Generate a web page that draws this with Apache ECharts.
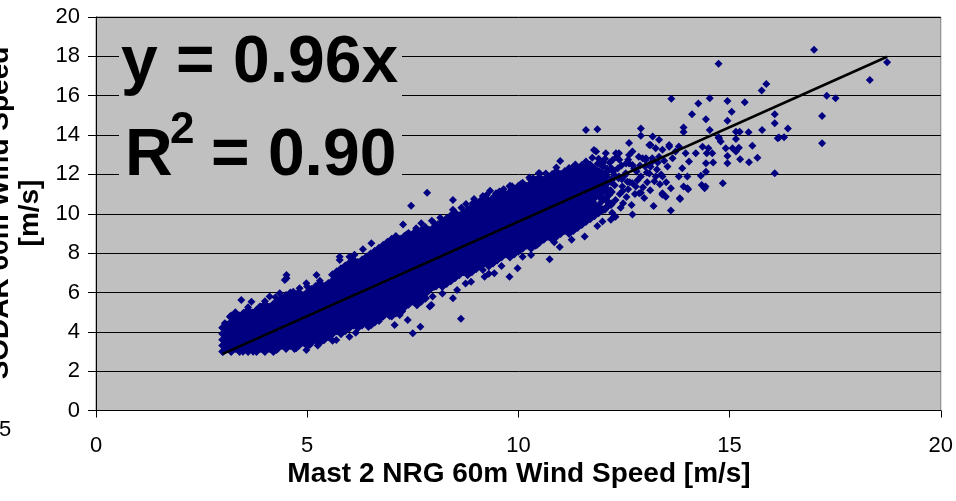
<!DOCTYPE html>
<html><head><meta charset="utf-8">
<script src="https://cdn.jsdelivr.net/npm/echarts@6/dist/echarts.min.js"></script>
<style>html,body{margin:0;padding:0;background:#fff}#c{width:956px;height:501px}</style>
</head><body><div id="c"></div>
<script>
// Dense core of the cloud: each entry = [x, y1, y2, ...] (m/s)
const bandColumns = [
[3.0,3.0,3.3,3.6,3.9,4.2],
[3.1,3.15,3.45,3.75,4.05,4.35],
[3.2,3.0,3.3,3.6,3.9,4.2,4.5,4.8],
[3.3,3.15,3.45,3.75,4.05,4.35,4.65],
[3.4,3.0,3.3,3.6,3.9,4.2,4.5,4.8],
[3.5,3.15,3.45,3.75,4.05,4.35,4.65,4.95],
[3.6,3.0,3.3,3.6,3.9,4.2,4.5,4.8,5.1],
[3.7,3.15,3.45,3.75,4.05,4.35,4.65,4.95],
[3.8,3.0,3.3,3.6,3.9,4.2,4.5,4.8,5.1],
[3.9,3.15,3.45,3.75,4.05,4.35,4.65,4.95,5.25],
[4.0,3.0,3.3,3.6,3.9,4.2,4.5,4.8,5.1,5.4],
[4.1,3.15,3.45,3.75,4.05,4.35,4.65,4.95,5.25],
[4.2,3.0,3.3,3.6,3.9,4.2,4.5,4.8,5.1,5.4],
[4.3,3.15,3.45,3.75,4.05,4.35,4.65,4.95,5.25,5.55],
[4.4,3.3,3.6,3.9,4.2,4.5,4.8,5.1,5.4,5.7],
[4.5,3.15,3.45,3.75,4.05,4.35,4.65,4.95,5.25,5.55,5.85],
[4.6,3.3,3.6,3.9,4.2,4.5,4.8,5.1,5.4,5.7],
[4.7,3.15,3.45,3.75,4.05,4.35,4.65,4.95,5.25,5.55,5.85],
[4.8,3.3,3.6,3.9,4.2,4.5,4.8,5.1,5.4,5.7,6.0],
[4.9,3.45,3.75,4.05,4.35,4.65,4.95,5.25,5.55,5.85],
[5.0,3.3,3.6,3.9,4.2,4.5,4.8,5.1,5.4,5.7,6.0],
[5.1,3.45,3.75,4.05,4.35,4.65,4.95,5.25,5.55,5.85,6.15],
[5.2,3.6,3.9,4.2,4.5,4.8,5.1,5.4,5.7,6.0,6.3],
[5.3,3.45,3.75,4.05,4.35,4.65,4.95,5.25,5.55,5.85,6.15,6.45],
[5.4,3.6,3.9,4.2,4.5,4.8,5.1,5.4,5.7,6.0,6.3],
[5.5,3.75,4.05,4.35,4.65,4.95,5.25,5.55,5.85,6.15,6.45],
[5.6,3.9,4.2,4.5,4.8,5.1,5.4,5.7,6.0,6.3,6.6,6.9],
[5.7,4.05,4.35,4.65,4.95,5.25,5.55,5.85,6.15,6.45,6.75,7.05],
[5.8,3.9,4.2,4.5,4.8,5.1,5.4,5.7,6.0,6.3,6.6,6.9,7.2],
[5.9,4.05,4.35,4.65,4.95,5.25,5.55,5.85,6.15,6.45,6.75,7.05,7.35],
[6.0,4.2,4.5,4.8,5.1,5.4,5.7,6.0,6.3,6.6,6.9,7.2,7.5],
[6.1,4.35,4.65,4.95,5.25,5.55,5.85,6.15,6.45,6.75,7.05,7.35,7.65],
[6.2,4.2,4.5,4.8,5.1,5.4,5.7,6.0,6.3,6.6,6.9,7.2,7.5],
[6.3,4.35,4.65,4.95,5.25,5.55,5.85,6.15,6.45,6.75,7.05,7.35,7.65],
[6.4,4.5,4.8,5.1,5.4,5.7,6.0,6.3,6.6,6.9,7.2,7.5,7.8],
[6.5,4.65,4.95,5.25,5.55,5.85,6.15,6.45,6.75,7.05,7.35,7.65,7.95],
[6.6,4.5,4.8,5.1,5.4,5.7,6.0,6.3,6.6,6.9,7.2,7.5,7.8,8.1],
[6.7,4.65,4.95,5.25,5.55,5.85,6.15,6.45,6.75,7.05,7.35,7.65,7.95,8.25],
[6.8,4.8,5.1,5.4,5.7,6.0,6.3,6.6,6.9,7.2,7.5,7.8,8.1,8.4],
[6.9,4.95,5.25,5.55,5.85,6.15,6.45,6.75,7.05,7.35,7.65,7.95,8.25,8.55],
[7.0,4.8,5.1,5.4,5.7,6.0,6.3,6.6,6.9,7.2,7.5,7.8,8.1,8.4,8.7],
[7.1,4.95,5.25,5.55,5.85,6.15,6.45,6.75,7.05,7.35,7.65,7.95,8.25,8.55,8.85],
[7.2,5.1,5.4,5.7,6.0,6.3,6.6,6.9,7.2,7.5,7.8,8.1,8.4,8.7],
[7.3,5.25,5.55,5.85,6.15,6.45,6.75,7.05,7.35,7.65,7.95,8.25,8.55,8.85],
[7.4,5.4,5.7,6.0,6.3,6.6,6.9,7.2,7.5,7.8,8.1,8.4,8.7,9.0],
[7.5,5.55,5.85,6.15,6.45,6.75,7.05,7.35,7.65,7.95,8.25,8.55,8.85],
[7.6,5.4,5.7,6.0,6.3,6.6,6.9,7.2,7.5,7.8,8.1,8.4,8.7,9.0],
[7.7,5.55,5.85,6.15,6.45,6.75,7.05,7.35,7.65,7.95,8.25,8.55,8.85,9.15],
[7.8,5.7,6.0,6.3,6.6,6.9,7.2,7.5,7.8,8.1,8.4,8.7,9.0,9.3],
[7.9,6.15,6.45,6.75,7.05,7.35,7.65,7.95,8.25,8.55,8.85,9.15],
[8.0,6.3,6.6,6.9,7.2,7.5,7.8,8.1,8.4,8.7,9.0,9.3],
[8.1,6.45,6.75,7.05,7.35,7.65,7.95,8.25,8.55,8.85,9.15,9.45],
[8.2,6.3,6.6,6.9,7.2,7.5,7.8,8.1,8.4,8.7,9.0,9.3,9.6],
[8.3,6.45,6.75,7.05,7.35,7.65,7.95,8.25,8.55,8.85,9.15,9.45,9.75],
[8.4,6.6,6.9,7.2,7.5,7.8,8.1,8.4,8.7,9.0,9.3,9.6,9.9],
[8.5,6.75,7.05,7.35,7.65,7.95,8.25,8.55,8.85,9.15,9.45,9.75,10.05],
[8.6,6.9,7.2,7.5,7.8,8.1,8.4,8.7,9.0,9.3,9.6,9.9],
[8.7,7.05,7.35,7.65,7.95,8.25,8.55,8.85,9.15,9.45,9.75,10.05],
[8.8,6.9,7.2,7.5,7.8,8.1,8.4,8.7,9.0,9.3,9.6,9.9,10.2],
[8.9,7.05,7.35,7.65,7.95,8.25,8.55,8.85,9.15,9.45,9.75,10.05,10.35],
[9.0,7.2,7.5,7.8,8.1,8.4,8.7,9.0,9.3,9.6,9.9,10.2,10.5],
[9.1,7.35,7.65,7.95,8.25,8.55,8.85,9.15,9.45,9.75,10.05,10.35,10.65],
[9.2,7.5,7.8,8.1,8.4,8.7,9.0,9.3,9.6,9.9,10.2,10.5,10.8],
[9.3,7.35,7.65,7.95,8.25,8.55,8.85,9.15,9.45,9.75,10.05,10.35,10.65],
[9.4,7.5,7.8,8.1,8.4,8.7,9.0,9.3,9.6,9.9,10.2,10.5,10.8],
[9.5,7.65,7.95,8.25,8.55,8.85,9.15,9.45,9.75,10.05,10.35,10.65,10.95],
[9.6,7.8,8.1,8.4,8.7,9.0,9.3,9.6,9.9,10.2,10.5,10.8,11.1],
[9.7,7.95,8.25,8.55,8.85,9.15,9.45,9.75,10.05,10.35,10.65,10.95],
[9.8,7.8,8.1,8.4,8.7,9.0,9.3,9.6,9.9,10.2,10.5,10.8,11.1,11.4],
[9.9,7.95,8.25,8.55,8.85,9.15,9.45,9.75,10.05,10.35,10.65,10.95,11.25],
[10.0,8.1,8.4,8.7,9.0,9.3,9.6,9.9,10.2,10.5,10.8,11.1,11.4],
[10.1,8.25,8.55,8.85,9.15,9.45,9.75,10.05,10.35,10.65,10.95,11.25,11.55],
[10.2,8.4,8.7,9.0,9.3,9.6,9.9,10.2,10.5,10.8,11.1,11.4],
[10.3,8.25,8.55,8.85,9.15,9.45,9.75,10.05,10.35,10.65,10.95,11.25,11.55],
[10.4,8.4,8.7,9.0,9.3,9.6,9.9,10.2,10.5,10.8,11.1,11.4,11.7],
[10.5,8.55,8.85,9.15,9.45,9.75,10.05,10.35,10.65,10.95,11.25,11.55,11.85],
[10.6,8.7,9.0,9.3,9.6,9.9,10.2,10.5,10.8,11.1,11.4,11.7],
[10.7,8.85,9.15,9.45,9.75,10.05,10.35,10.65,10.95,11.25,11.55,11.85],
[10.8,8.7,9.0,9.3,9.6,9.9,10.2,10.5,10.8,11.1,11.4,11.7,12.0],
[10.9,8.85,9.15,9.45,9.75,10.05,10.35,10.65,10.95,11.25,11.55,11.85,12.15],
[11.0,9.0,9.3,9.6,9.9,10.2,10.5,10.8,11.1,11.4,11.7,12.0],
[11.1,9.15,9.45,9.75,10.05,10.35,10.65,10.95,11.25,11.55,11.85,12.15],
[11.2,9.0,9.3,9.6,9.9,10.2,10.5,10.8,11.1,11.4,11.7,12.0,12.3],
[11.3,9.15,9.45,9.75,10.05,10.35,10.65,10.95,11.25,11.55,11.85,12.15],
[11.4,9.3,9.6,9.9,10.2,10.5,10.8,11.1,11.4,11.7,12.0,12.3],
[11.5,9.45,9.75,10.05,10.35,10.65,10.95,11.25,11.55,11.85,12.15,12.45],
[11.6,9.6,9.9,10.2,10.5,10.8,11.1,11.4,11.7,12.0,12.3],
[11.7,9.75,10.05,10.35,10.65,10.95,11.25,11.55,11.85,12.15,12.45],
[11.8,9.9,10.5,10.8,11.1,11.4,11.7,12.0,12.3],
[11.9,10.05,10.35,10.95,11.25,11.55,11.85,12.15],
[12.0,10.2,10.8,11.1,11.4,12.0,12.6],
[12.1,10.35,10.65,11.25,11.55,12.15],
[12.2,10.5,11.1,11.7,12.3]
];
// Ragged edges of the cloud (x, y)
const edgePoints = [
[3.01,2.99],[3.48,2.99],[3.72,2.99],[3.96,3.08],[4.27,3.08],[4.51,3.24],[4.74,3.16],[4.98,3.08],[5.06,3.33],[5.25,3.3],
[5.49,3.92],[5.6,3.55],[5.69,3.58],[5.85,4.18],[6.0,3.75],[6.15,3.95],[6.32,4.43],[6.45,4.25],[6.52,4.35],[6.7,4.55],
[6.83,4.86],[6.95,4.8],[7.07,4.35],[7.19,4.86],[7.25,5.05],[7.38,4.6],[7.5,3.92],[7.6,5.35],[7.68,4.26],[8.64,4.66],
[6.87,5.28],[7.9,5.28],[7.94,5.36],[7.82,5.96],[7.97,5.79],[8.2,5.95],[8.45,5.7],[8.55,6.13],[8.05,6.3],[8.41,6.64],
[8.75,6.45],[8.88,6.55],[9.2,6.8],[9.3,6.95],[9.43,6.97],[9.16,7.14],[9.6,7.35],[9.79,6.8],[9.98,7.23],[10.1,7.82],
[10.3,7.9],[10.44,8.41],[10.74,7.69],[10.85,8.55],[10.98,8.31],[11.26,8.68],[11.57,8.84],[11.87,9.38],[11.99,9.6],[12.19,9.69],
[12.3,9.85],[3.05,4.43],[3.17,4.77],[3.3,5.0],[3.44,5.62],[3.68,5.53],[3.6,5.25],[3.88,5.28],[4.0,5.55],[4.11,5.79],
[4.25,5.75],[4.35,5.96],[4.47,6.63],[4.51,6.72],[4.51,6.89],[4.6,6.0],[4.67,6.04],[4.82,6.21],[4.98,6.47],[5.0,6.3],
[5.22,6.89],[5.3,6.6],[5.45,6.38],[5.6,6.9],[5.77,7.82],[5.77,7.65],[5.9,7.25],[6.0,7.82],[6.12,7.91],[6.2,7.55],
[6.32,8.19],[6.45,7.85],[6.52,8.5],[6.75,8.1],[6.92,8.48],[7.05,8.6],[7.27,9.45],[7.35,8.95],[7.55,9.1],[7.58,9.26],
[7.7,9.52],[7.82,8.92],[7.95,9.65],[8.01,9.52],[8.15,9.8],[8.29,9.72],[8.45,10.2],[8.65,10.3],[8.76,10.49],[8.92,10.53],
[8.95,10.75],[9.16,10.9],[9.25,10.95],[9.33,11.17],[9.47,11.04],[9.55,11.13],[9.65,11.25],[9.85,11.4],[10.05,11.5],[10.28,11.75],
[10.35,11.8],[10.48,12.06],[10.65,12.05],[10.81,11.97],[10.9,12.35],[11.21,12.23],[11.28,12.35],[11.35,12.5],[11.44,12.23],[11.6,12.65]
];
// Sparser upper end of the cloud, x 11.5 - 14.5 (x, y)
const tailPoints = [
[11.55,10.6],[11.6,11.25],[11.62,12.25],[11.68,9.95],[11.7,10.9],[11.72,11.6],[11.75,12.85],[11.78,10.35],[11.82,11.9],[11.85,11.05],
[11.88,12.55],[11.9,10.15],[11.93,11.75],[11.96,10.6],[11.98,12.1],[12.02,11.35],[12.05,12.8],[12.08,10.8],[12.1,11.9],[12.12,10.4],
[12.16,12.6],[12.18,11.2],[12.22,10.05],[12.24,12.15],[12.28,11.45],[12.3,10.7],[12.33,12.9],[12.37,11.8],[12.42,10.3],[12.44,12.45],
[12.47,11.15],[12.52,11.95],[12.56,10.85],[12.6,12.75],[12.64,11.6],[12.68,10.45],[12.74,12.3],[12.76,11.0],[12.82,11.7],[12.88,12.45],
[12.95,11.35],[12.98,10.8],[13.04,12.1],[13.12,11.2],[13.15,12.6],[13.22,11.65],[13.28,12.25],[13.38,12.0],[13.45,12.7],[13.5,11.6],
[11.6,11.72],[11.56,10.03],[11.64,10.37],[11.65,11.0],[11.65,9.9],[11.7,12.5],[11.75,10.6],[11.76,12.06],[11.79,13.24],[11.8,10.2],
[11.83,11.38],[11.84,13.16],[11.9,12.8],[11.91,10.87],[11.95,11.5],[11.99,12.39],[12.0,12.45],[12.03,11.72],[12.05,10.2],[12.07,13.07],
[12.07,11.13],[12.1,12.3],[12.15,10.95],[12.19,10.45],[12.2,11.6],[12.23,12.73],[12.27,11.98],[12.27,9.86],[12.31,13.08],[12.35,12.3],
[12.38,13.07],[12.38,11.89],[12.39,12.74],[12.4,11.0],[12.45,11.75],[12.46,11.38],[12.48,10.53],[12.54,12.06],[12.55,12.55],[12.58,11.63],
[12.6,11.25],[12.62,13.59],[12.62,12.99],[12.62,12.56],[12.7,12.48],[12.7,11.55],[12.7,9.96],[12.7,13.16],[12.78,12.22],[12.78,11.38],
[12.8,12.15],[12.85,12.9],[12.86,11.04],[12.9,11.89],[12.9,11.07],[12.9,14.33],[12.9,13.97],[12.94,12.82],[13.0,12.4],[13.01,12.73],
[13.02,12.82],[13.05,11.6],[13.1,12.05],[13.1,13.5],[13.13,13.5],[13.13,12.39],[13.17,12.82],[13.18,13.92],[13.2,10.4],[13.25,11.89],
[13.25,13.33],[13.3,12.6],[13.33,13.76],[13.33,12.9],[13.35,11.5],[13.41,13.25],[13.41,11.89],[13.41,11.04],[13.41,10.96],[13.49,10.87],
[13.53,12.4],[13.57,13.5],[13.57,13.41],[13.61,11.3],[13.61,10.16],[13.62,15.85],[13.65,12.82],[13.72,13.16],[13.8,13.42],[13.8,11.89],
[13.82,10.79],[13.83,10.75],[13.88,12.31],[13.91,14.38],[13.91,14.16],[13.91,11.38],[13.96,13.08],[14.0,11.89],[14.0,11.3],[14.02,11.25],
[14.04,12.65],[14.11,15.06],[14.2,13.07],[14.26,15.6],[14.32,11.93],[14.34,11.46],[14.36,13.41],[14.41,11.3],[14.43,11.38],[14.44,14.8],
[14.44,12.14],[14.44,12.57],[14.46,13.07],[14.5,13.33],[11.6,14.26],[11.87,14.3],[10.99,12.68],[10.26,11.84],[10.5,12.06],[7.46,10.41],
[7.84,11.07],[8.45,10.7]
];
// Scattered high-wind points, x > 14.5 (x, y)
const outlierPoints = [
[14.53,15.87],[14.53,14.26],[14.59,13.07],[14.61,12.6],[14.74,17.62],[14.74,13.89],[14.75,13.84],[14.79,13.67],[14.84,11.55],[14.91,13.33],
[14.95,15.73],[14.95,14.73],[14.95,12.94],[14.95,12.57],[15.05,15.19],[15.07,13.33],[15.15,14.17],[15.15,13.8],[15.15,13.16],[15.22,13.36],
[15.24,14.17],[15.25,12.77],[15.36,15.67],[15.45,14.14],[15.46,12.62],[15.54,13.46],[15.66,12.85],[15.76,16.26],[15.77,14.26],[15.87,16.6],
[16.07,15.06],[16.07,14.6],[16.07,12.06],[16.14,13.84],[16.17,13.87],[16.29,13.89],[16.38,14.33],[17.0,18.33],[17.19,14.97],[17.19,13.58],
[17.3,16.0],[17.51,15.87],[18.32,16.8],[18.73,17.7]
];
// Fitted line y = 0.96x, drawn across the data range
const trendX = [3.0, 18.73];
const trendY = [2.88, 17.98];

const coreData = [];
for (const col of bandColumns) { for (let i = 1; i < col.length; i++) coreData.push([col[0], col[i]]); }
const looseData = [].concat(edgePoints, tailPoints, outlierPoints);
const trendData = trendX.map((x, i) => [x, trendY[i]]);

const FONT = 'Liberation Sans, Arial, sans-serif';
const NAVY = '#000080';
const chart = echarts.init(document.getElementById('c'), null, {renderer: 'canvas', width: 956, height: 501});
chart.setOption({
  animation: false,
  backgroundColor: '#ffffff',
  grid: {left: 96, right: 14, top: 17, bottom: 90.5, show: true, backgroundColor: '#C0C0C0', borderColor: '#808080', borderWidth: 1},
  xAxis: {
    type: 'value', min: 0, max: 20, interval: 5,
    axisLine: {show: true, onZero: false, lineStyle: {color: '#000', width: 1}},
    axisTick: {show: true, length: 7, lineStyle: {color: '#000'}},
    axisLabel: {color: '#000', fontFamily: FONT, fontSize: 22, margin: 24},
    splitLine: {show: false}
  },
  yAxis: {
    type: 'value', min: 0, max: 20, interval: 2,
    axisLine: {show: true, onZero: false, lineStyle: {color: '#000', width: 1}},
    axisTick: {show: true, length: 8, lineStyle: {color: '#000'}},
    axisLabel: {color: '#000', fontFamily: FONT, fontSize: 22, margin: 16},
    splitLine: {show: true, lineStyle: {color: '#000', width: 1}}
  },
  series: [
    {type: 'scatter', data: coreData, symbol: 'diamond', symbolSize: 9, itemStyle: {color: NAVY, opacity: 1}, silent: true, z: 2},
    {type: 'scatter', data: looseData, symbol: 'diamond', symbolSize: 8, itemStyle: {color: NAVY, opacity: 1}, silent: true, z: 2},
    {type: 'line', data: trendData, symbol: 'none', lineStyle: {color: '#000', width: 2.5}, silent: true, z: 3}
  ],
  graphic: [
    {type: 'rect', z: 50, shape: {x: 119, y: 35, width: 283, height: 153}, style: {fill: '#C0C0C0'}},
    {type: 'text', z: 51, x: 121, y: 64, style: {text: 'y = 0.96x', font: 'bold 66px ' + FONT, fill: '#000', align: 'left', verticalAlign: 'middle'}},
    {type: 'text', z: 51, x: 125, y: 157, style: {text: 'R', font: 'bold 66px ' + FONT, fill: '#000', align: 'left', verticalAlign: 'middle'}},
    {type: 'text', z: 51, x: 170, y: 131, style: {text: '2', font: 'bold 44px ' + FONT, fill: '#000', align: 'left', verticalAlign: 'middle'}},
    {type: 'text', z: 51, x: 211, y: 157, style: {text: '= 0.90', font: 'bold 66px ' + FONT, fill: '#000', align: 'left', verticalAlign: 'middle'}},
    {type: 'text', z: 51, x: 519, y: 474, style: {text: 'Mast 2 NRG 60m Wind Speed [m/s]', font: 'bold 28px ' + FONT, fill: '#000', align: 'center', verticalAlign: 'middle'}},
    {type: 'text', z: 51, x: 15, y: 213, rotation: Math.PI / 2, style: {text: 'SODAR 60m Wind Speed\n[m/s]', font: 'bold 28px ' + FONT, lineHeight: 30, fill: '#000', align: 'center', verticalAlign: 'middle'}},
    {type: 'text', z: 51, x: -1, y: 430, style: {text: '5', font: '22px ' + FONT, fill: '#000', align: 'left', verticalAlign: 'middle'}}
  ]
});
</script>
</body></html>
